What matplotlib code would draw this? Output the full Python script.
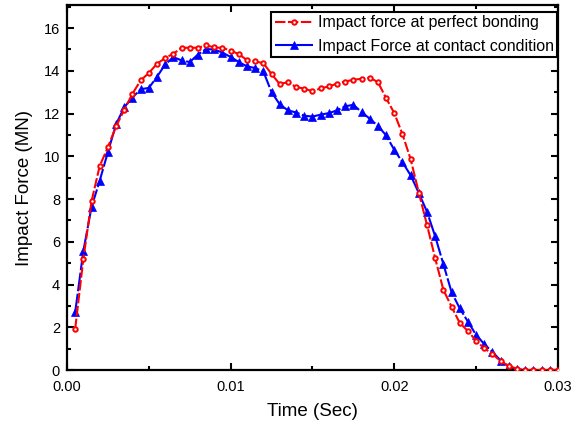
import matplotlib
matplotlib.use("Agg")
import matplotlib.pyplot as plt
from matplotlib.ticker import MultipleLocator

plt.rcParams["font.family"] = ["Liberation Sans", "DejaVu Sans"]

# time samples every 0.5 ms
time = [k * 0.0005 for k in range(1, 61)]

force_bonding = [
    1.92, 5.2, 7.9, 9.55, 10.43, 11.4, 12.18, 12.93, 13.55, 13.9,
    14.33, 14.6, 14.8, 15.08, 15.08, 15.08, 15.19, 15.1, 15.07, 14.95,
    14.78, 14.5, 14.44, 14.36, 13.85, 13.38, 13.47, 13.24, 13.17, 13.04,
    13.18, 13.27, 13.4, 13.5, 13.58, 13.63, 13.68, 13.47, 12.72, 12.02,
    11.03, 9.86, 8.29, 6.78, 5.22, 3.75, 2.96, 2.2, 1.82, 1.37,
    1.01, 0.76, 0.4, 0.2, 0.05, 0.0, 0.0, 0.0, 0.0, 0.0,
]

force_contact = [
    2.7, 5.57, 7.63, 8.86, 10.2, 11.5, 12.3, 12.75, 13.14, 13.2,
    13.72, 14.3, 14.64, 14.49, 14.41, 14.76, 15.02, 15.0, 14.85, 14.65,
    14.41, 14.21, 14.13, 13.97, 13.0, 12.43, 12.15, 12.05, 11.9, 11.86,
    11.95, 12.02, 12.15, 12.34, 12.41, 12.07, 11.76, 11.42, 10.98, 10.3,
    9.72, 9.11, 8.28, 7.4, 6.25, 4.95, 3.64, 2.88, 2.26, 1.64,
    1.21, 0.84, 0.44, 0.17, 0.03, 0.0, 0.0, 0.0, 0.0, 0.0,
]

fig = plt.figure(figsize=(5.8, 4.25), dpi=100)
ax = fig.add_axes([0.1155, 0.1294, 0.8465, 0.8588])

ax.plot(time, force_bonding, color="#ff0000", linewidth=1.5,
        linestyle=(0, (5, 1.2)), marker="o", markersize=3.2,
        markerfacecolor="white", markeredgewidth=1.4,
        label="Impact force at perfect bonding", zorder=3)
ax.plot(time, force_contact, color="#0000ff", linewidth=1.5,
        linestyle=(0, (9, 1.2)), marker="^", markersize=5.5,
        markeredgewidth=0.5,
        label="Impact Force at contact condition", zorder=2)

ax.set_xlim(0, 0.03)
ax.set_ylim(0, 17.08)
ax.xaxis.set_major_locator(MultipleLocator(0.01))
ax.xaxis.set_minor_locator(MultipleLocator(0.005))
ax.yaxis.set_major_locator(MultipleLocator(2))
ax.yaxis.set_minor_locator(MultipleLocator(1))
ax.xaxis.set_major_formatter(plt.FuncFormatter(lambda x, _: f"{x:.2f}"))

ax.tick_params(which="both", direction="in", top=True, right=True,
               width=1.5, labelsize=10.5)
ax.tick_params(axis="x", pad=7)
ax.tick_params(axis="y", pad=5)
ax.tick_params(which="major", length=5)
ax.tick_params(which="minor", length=3)
for sp in ax.spines.values():
    sp.set_linewidth(1.6)

ax.set_xlabel("Time (Sec)", fontsize=13.5, labelpad=7)
ax.set_ylabel("Impact Force (MN)", fontsize=13.5, labelpad=8)

leg = ax.legend(loc="upper right", bbox_to_anchor=(0.998, 0.981),
                fontsize=11.5, fancybox=False, framealpha=1,
                edgecolor="black", borderpad=0.2, labelspacing=0.55,
                handlelength=2.4, handletextpad=0.3, borderaxespad=0)
leg.get_frame().set_linewidth(1.5)

fig.savefig("out.png", dpi=100)
